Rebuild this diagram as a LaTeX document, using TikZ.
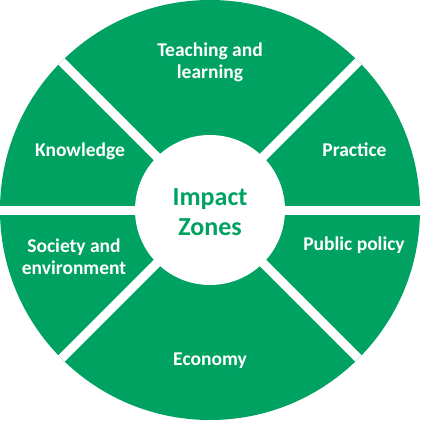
\documentclass[tikz,border=0pt]{standalone}
\usepackage{fontspec}
\setmainfont{Carlito}
\usepackage{xcolor}
\usepackage{tikz}
\usetikzlibrary{positioning, calc}
\definecolor{impactgreen}{HTML}{00A262}
\tikzset{
  zone/.style={text=white, align=center, font=\bfseries\fontsize{19.5}{22}\selectfont, inner sep=2pt},
  hub/.style={text=impactgreen, align=center, font=\bfseries\fontsize{26}{30}\selectfont, inner sep=2pt},
  divider/.style={draw=white, line width=9pt},
}

\begin{document}
\begin{tikzpicture}[x=1pt, y=1pt]
  \useasboundingbox (-210,-211) rectangle (215,210);
  % Outer disc
  \fill[impactgreen] (0,0) circle (210);
  % White dividers between the zones
  \draw[divider] (180:210) -- (0:210);
  \draw[divider] (135:210) -- (315:210);
  \draw[divider] (45:210) -- (225:210);
  % Centre
  \fill[white] (0,0) circle (75);
  \node[hub] (hub) at (0,-2) {Impact\\Zones};
  % Zone labels
  \node[zone] (teach) at (0,148) {Teaching and\\learning};
  \node[zone, anchor=base] (know) at (-130,53.3) {Knowledge};
  \node[zone, anchor=base] (prac) at (144.5,53.3) {Practice};
  \node[zone] (soc) at (-136,-47) {Society and\\environment};
  \node[zone, anchor=base] (policy) at (144,-40.7) {Public policy};
  \node[zone, anchor=base] (econ) at (0,-155) {Economy};
\end{tikzpicture}
\end{document}
